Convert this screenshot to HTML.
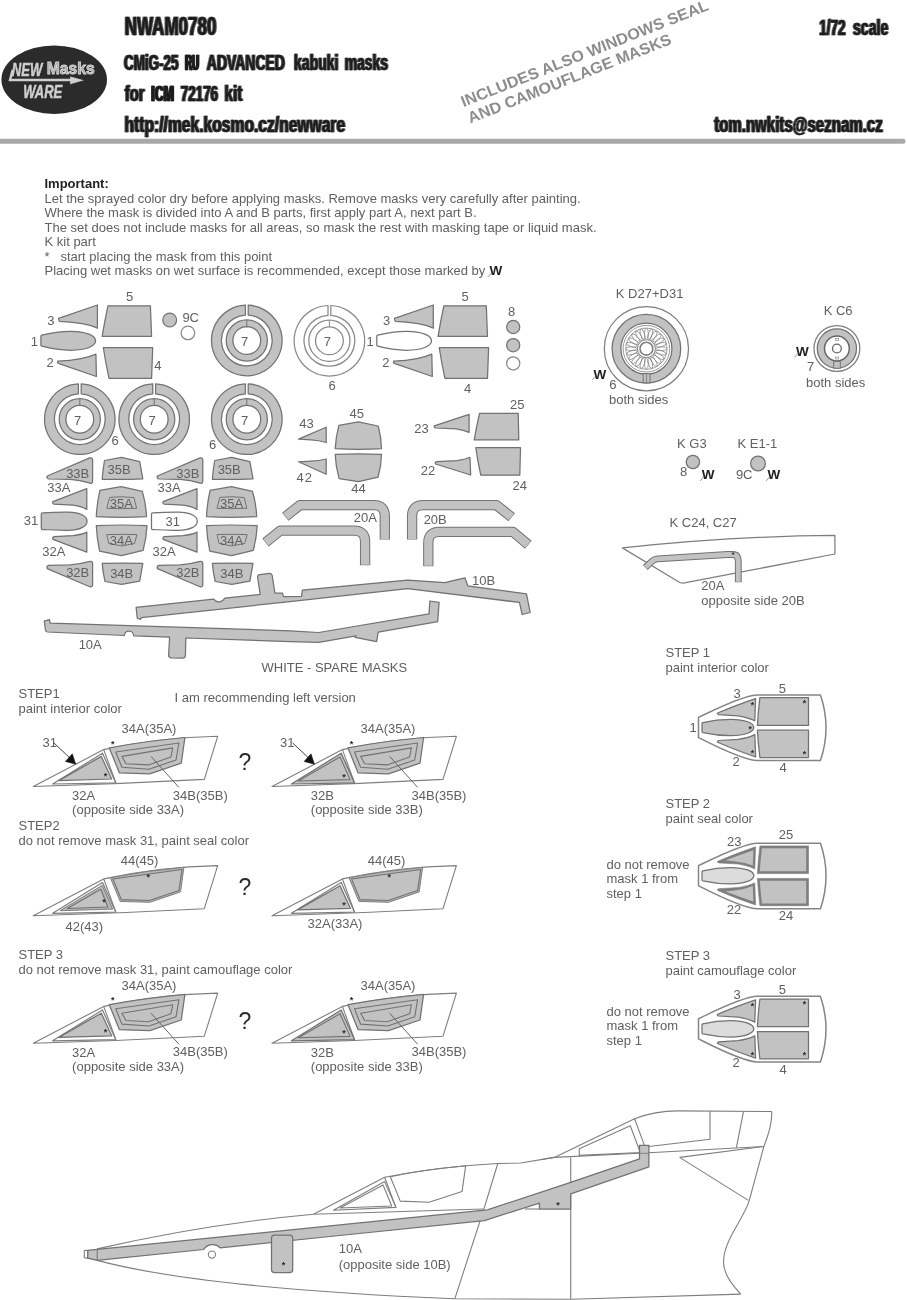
<!DOCTYPE html>
<html lang="en">
<head>
<meta charset="utf-8">
<title>NWAM0780 CMiG-25 RU ADVANCED kabuki masks</title>
<style>
html,body{margin:0;padding:0;background:#fff}
body{width:907px;height:1300px;overflow:hidden;position:relative}
svg{will-change:transform;display:block;position:absolute;left:0;top:0;font-family:"Liberation Sans",sans-serif;font-size:13px;fill:#606060}
</style>
</head>
<body>
<svg width="907" height="1300" viewBox="0 0 907 1300">
<g id="header">
<rect x="-5" y="138.7" width="910.5" height="5.1" rx="2.5" fill="#a9a9a9"/>
<ellipse cx="54.2" cy="79.7" rx="52.8" ry="34.2" fill="#2b2b2b"/>
<g fill="#cfcfcf" stroke="#cfcfcf" stroke-width="0.5" font-weight="700" font-style="italic">
<text x="11.8" y="76.2" font-size="18" textLength="30.5" lengthAdjust="spacingAndGlyphs">NEW</text>
<text x="23.2" y="97.7" font-size="17.7" textLength="39" lengthAdjust="spacingAndGlyphs">WARE</text>
</g>
<text x="46.8" y="73.7" font-size="16.7" font-weight="700" fill="#a9a9a9" stroke="#d6d6d6" stroke-width="0.9" textLength="48" lengthAdjust="spacingAndGlyphs">Masks</text>
<path d="M12.6,70 L10,80 L71,80" fill="none" stroke="#cfcfcf" stroke-width="2.4" stroke-linejoin="miter"/>
<path d="M70.2,76.4 L84,80.2 L70.2,84.2 Z" fill="#cfcfcf"/>
<filter id="fat" filterUnits="userSpaceOnUse" x="100" y="0" width="807" height="140"><feMorphology operator="dilate" radius="1 0" result="d"/><feComponentTransfer in="d" result="h"><feFuncA type="linear" slope="0.75"/></feComponentTransfer><feMerge><feMergeNode in="h"/><feMergeNode in="SourceGraphic"/></feMerge></filter>
<filter id="fat2" filterUnits="userSpaceOnUse" x="100" y="0" width="807" height="140"><feMorphology operator="dilate" radius="1 0" result="d"/><feComponentTransfer in="d" result="h"><feFuncA type="linear" slope="1"/></feComponentTransfer><feMerge><feMergeNode in="h"/><feMergeNode in="SourceGraphic"/></feMerge></filter>
<g font-weight="700" fill="#1e1e1e" stroke="#1e1e1e" stroke-width="0.3" filter="url(#fat)">
<text x="124.75" y="34.6" font-size="25.73" textLength="91.61" lengthAdjust="spacingAndGlyphs">NWAM0780</text>
<text x="124.05" y="70" font-size="22.82" textLength="54.32" lengthAdjust="spacingAndGlyphs">CMiG-25</text>
<text x="206.85" y="70" font-size="22.82" textLength="77.97" lengthAdjust="spacingAndGlyphs">ADVANCED</text>
<text x="294.05" y="70" font-size="22.82" textLength="44.47" lengthAdjust="spacingAndGlyphs">kabuki</text>
<text x="344.65" y="70" font-size="22.82" textLength="43.48" lengthAdjust="spacingAndGlyphs">masks</text>
<text x="124.85" y="101.2" font-size="22.82" textLength="19.67" lengthAdjust="spacingAndGlyphs">for</text>
<text x="180.75" y="101.2" font-size="22.82" textLength="37.31" lengthAdjust="spacingAndGlyphs">72176</text>
<text x="224.55" y="101.2" font-size="22.82" textLength="17.73" lengthAdjust="spacingAndGlyphs">kit</text>
<text x="124.55" y="132.2" font-size="22.82" textLength="220.60" lengthAdjust="spacingAndGlyphs">http://mek.kosmo.cz/newware</text>
<text x="819.15" y="34.8" font-size="22.82" textLength="26.42" lengthAdjust="spacingAndGlyphs">1/72</text>
<text x="852.95" y="34.8" font-size="22.82" textLength="35.36" lengthAdjust="spacingAndGlyphs">scale</text>
<text x="714.15" y="132.4" font-size="22.82" textLength="168.60" lengthAdjust="spacingAndGlyphs">tom.nwkits@seznam.cz</text>
</g>
<g font-weight="700" fill="#1e1e1e" stroke="#1e1e1e" stroke-width="0.3" filter="url(#fat2)">
<text x="185.20" y="70" font-size="22.82" textLength="13.79" lengthAdjust="spacingAndGlyphs">RU</text>
<text x="151.20" y="101.2" font-size="22.82" textLength="22.78" lengthAdjust="spacingAndGlyphs">ICM</text>
</g>
<g transform="translate(463.4,107.2) rotate(-21.6)" font-weight="700" font-size="15.8" fill="#8d8d8d">
<text x="0" y="0" textLength="265" lengthAdjust="spacingAndGlyphs">INCLUDES ALSO WINDOWS SEAL</text>
<text x="0.4" y="17.7" textLength="217.5" lengthAdjust="spacingAndGlyphs">AND CAMOUFLAGE MASKS</text>
</g>
</g>
<g id="intro">
<text x="44.5" y="188.1" font-weight="700" fill="#222" >Important:</text>
<text x="44.5" y="202.6" >Let the sprayed color dry before applying masks. Remove masks very carefully after painting.</text>
<text x="44.5" y="217.2" >Where the mask is divided into A and B parts, first apply part A, next part B.</text>
<text x="44.5" y="231.7" >The set does not include masks for all areas, so mask the rest with masking tape or liquid mask.</text>
<text x="44.5" y="246.2" >K kit part</text>
<text x="44.5" y="260.8" >*   start placing the mask from this point</text>
<text x="44.5" y="275.4" >Placing wet masks on wet surface is recommended, except those marked by</text>
<text x="489.5" y="275.4" font-weight="700" font-size="13.5" fill="#222">W</text>
<path d="M488,276.9 L492,272.4" stroke="#666" stroke-width="0.7" fill="none"/>
</g>
<g id="sheet">
<path d="M58.6,318.4 L97.4,305 L97.4,328.2 Q92,325.2 82,323.6 Q70,321.8 59.6,321.4 Q58.3,320.6 58.6,318.4 Z" fill="#c2c2c2" stroke="#727272" stroke-width="1.25" stroke-linejoin="round" />
<path d="M107.9,305.8 L150.4,305.8 L151.6,336.4 L102.2,336.4 Q104.5,322 107.9,305.8 Z" fill="#c2c2c2" stroke="#727272" stroke-width="1.25" stroke-linejoin="round" />
<path d="M40.9,336.2 Q41,335.4 41.8,335.2 C52,332.5 62,331.2 71,331.3 C86,331.4 95.6,335.5 95.6,340.8 C95.6,346.2 86,350.2 71,350.3 C62,350.3 52,349 41.8,346.2 Q41,346 40.9,345.2 Z" fill="#c2c2c2" stroke="#727272" stroke-width="1.25" stroke-linejoin="round" />
<path d="M57.6,361.2 Q70,360.6 81,358.6 Q90,356.8 95.9,354.1 L96.4,376.5 L58.4,363.4 Q57.2,362.6 57.6,361.2 Z" fill="#c2c2c2" stroke="#727272" stroke-width="1.25" stroke-linejoin="round" />
<path d="M103.3,347.5 L152.7,347.5 L151.6,378.3 L109,378.3 Q105.5,362 103.3,347.5 Z" fill="#c2c2c2" stroke="#727272" stroke-width="1.25" stroke-linejoin="round" />
<text x="129.7" y="300.5" text-anchor="middle" >5</text>
<text x="50.8" y="325" text-anchor="middle" >3</text>
<text x="34.4" y="345.7" text-anchor="middle" >1</text>
<text x="50.1" y="367.4" text-anchor="middle" >2</text>
<text x="157.8" y="370" text-anchor="middle" >4</text>
<circle cx="169.7" cy="320" r="6.9" fill="#c2c2c2" stroke="#727272" stroke-width="1.25"/>
<circle cx="187.9" cy="332.9" r="6.8" fill="#fff" stroke="#8a8a8a" stroke-width="1.25"/>
<text x="182.4" y="322.2" >9C</text>
<path d="M248.2,305.2 A35.3,35.3 0 1 1 245.4,305.2 L245.4,315.1 A25.4,25.4 0 1 0 248.2,315.1 Z" fill="#c2c2c2" stroke="#727272" stroke-width="1.25" stroke-linejoin="round" />
<path d="M246.8,319.9 A20.6,20.6 0 0 1 246.8,361.1 A20.6,20.6 0 0 1 246.8,319.9 Z M246.8,326.6 A13.9,13.9 0 0 0 246.8,354.4 A13.9,13.9 0 0 0 246.8,326.6 Z" fill="#c2c2c2" fill-rule="evenodd" stroke="#727272" stroke-width="1.25"/>
<line x1="246.8" y1="319.9" x2="246.8" y2="326.6" stroke="#727272" stroke-width="1"/>
<text x="244.7" y="346.1" text-anchor="middle" >7</text>
<path d="M330.8,305.5 A35.3,35.3 0 1 1 328,305.5 L328,315.4 A25.4,25.4 0 1 0 330.8,315.4 Z" fill="#fff" stroke="#8a8a8a" stroke-width="1.25" stroke-linejoin="round" />
<path d="M329.4,320.2 A20.6,20.6 0 0 1 329.4,361.4 A20.6,20.6 0 0 1 329.4,320.2 Z M329.4,326.9 A13.9,13.9 0 0 0 329.4,354.7 A13.9,13.9 0 0 0 329.4,326.9 Z" fill="#fff" fill-rule="evenodd" stroke="#8a8a8a" stroke-width="1.25"/>
<line x1="329.4" y1="320.2" x2="329.4" y2="326.9" stroke="#8a8a8a" stroke-width="1"/>
<text x="327.3" y="346.4" text-anchor="middle" >7</text>
<text x="332" y="389.6" text-anchor="middle" >6</text>
<path d="M58.6,318.4 L97.4,305 L97.4,328.2 Q92,325.2 82,323.6 Q70,321.8 59.6,321.4 Q58.3,320.6 58.6,318.4 Z" fill="#c2c2c2" stroke="#727272" stroke-width="1.25" stroke-linejoin="round" transform="translate(335.9,0)"/>
<path d="M107.9,305.8 L150.4,305.8 L151.6,336.4 L102.2,336.4 Q104.5,322 107.9,305.8 Z" fill="#c2c2c2" stroke="#727272" stroke-width="1.25" stroke-linejoin="round" transform="translate(335.9,0)"/>
<path d="M40.9,336.2 Q41,335.4 41.8,335.2 C52,332.5 62,331.2 71,331.3 C86,331.4 95.6,335.5 95.6,340.8 C95.6,346.2 86,350.2 71,350.3 C62,350.3 52,349 41.8,346.2 Q41,346 40.9,345.2 Z" fill="#fff" stroke="#727272" stroke-width="1.25" stroke-linejoin="round" transform="translate(335.9,0)"/>
<path d="M57.6,361.2 Q70,360.6 81,358.6 Q90,356.8 95.9,354.1 L96.4,376.5 L58.4,363.4 Q57.2,362.6 57.6,361.2 Z" fill="#c2c2c2" stroke="#727272" stroke-width="1.25" stroke-linejoin="round" transform="translate(335.9,0)"/>
<path d="M103.3,347.5 L152.7,347.5 L151.6,378.3 L109,378.3 Q105.5,362 103.3,347.5 Z" fill="#c2c2c2" stroke="#727272" stroke-width="1.25" stroke-linejoin="round" transform="translate(335.9,0)"/>
<text x="465.2" y="300.5" text-anchor="middle" >5</text>
<text x="386.5" y="325.4" text-anchor="middle" >3</text>
<text x="370" y="345.9" text-anchor="middle" >1</text>
<text x="385.8" y="367.4" text-anchor="middle" >2</text>
<text x="467.5" y="393.2" text-anchor="middle" >4</text>
<text x="511.5" y="315.8" text-anchor="middle" >8</text>
<circle cx="513.2" cy="327" r="6.6" fill="#c2c2c2" stroke="#727272" stroke-width="1.25"/>
<circle cx="513.2" cy="345.2" r="6.6" fill="#c2c2c2" stroke="#727272" stroke-width="1.25"/>
<circle cx="513.2" cy="363.4" r="6.6" fill="#fff" stroke="#8a8a8a" stroke-width="1.25"/>
<path d="M81.2,383.9 A35.3,35.3 0 1 1 78.4,383.9 L78.4,393.8 A25.4,25.4 0 1 0 81.2,393.8 Z" fill="#c2c2c2" stroke="#727272" stroke-width="1.25" stroke-linejoin="round" />
<path d="M79.8,398.6 A20.6,20.6 0 0 1 79.8,439.8 A20.6,20.6 0 0 1 79.8,398.6 Z M79.8,405.3 A13.9,13.9 0 0 0 79.8,433.1 A13.9,13.9 0 0 0 79.8,405.3 Z" fill="#c2c2c2" fill-rule="evenodd" stroke="#727272" stroke-width="1.25"/>
<line x1="79.8" y1="398.6" x2="79.8" y2="405.3" stroke="#727272" stroke-width="1"/>
<text x="77.7" y="424.8" text-anchor="middle" >7</text>
<path d="M155.6,383.9 A35.3,35.3 0 1 1 152.8,383.9 L152.8,393.8 A25.4,25.4 0 1 0 155.6,393.8 Z" fill="#c2c2c2" stroke="#727272" stroke-width="1.25" stroke-linejoin="round" />
<path d="M154.2,398.6 A20.6,20.6 0 0 1 154.2,439.8 A20.6,20.6 0 0 1 154.2,398.6 Z M154.2,405.3 A13.9,13.9 0 0 0 154.2,433.1 A13.9,13.9 0 0 0 154.2,405.3 Z" fill="#c2c2c2" fill-rule="evenodd" stroke="#727272" stroke-width="1.25"/>
<line x1="154.2" y1="398.6" x2="154.2" y2="405.3" stroke="#727272" stroke-width="1"/>
<text x="152.1" y="424.8" text-anchor="middle" >7</text>
<path d="M248.2,383.9 A35.3,35.3 0 1 1 245.4,383.9 L245.4,393.8 A25.4,25.4 0 1 0 248.2,393.8 Z" fill="#c2c2c2" stroke="#727272" stroke-width="1.25" stroke-linejoin="round" />
<path d="M246.8,398.6 A20.6,20.6 0 0 1 246.8,439.8 A20.6,20.6 0 0 1 246.8,398.6 Z M246.8,405.3 A13.9,13.9 0 0 0 246.8,433.1 A13.9,13.9 0 0 0 246.8,405.3 Z" fill="#c2c2c2" fill-rule="evenodd" stroke="#727272" stroke-width="1.25"/>
<line x1="246.8" y1="398.6" x2="246.8" y2="405.3" stroke="#727272" stroke-width="1"/>
<text x="244.7" y="424.8" text-anchor="middle" >7</text>
<text x="115" y="445.1" text-anchor="middle" >6</text>
<text x="212.7" y="449.1" text-anchor="middle" >6</text>
<path d="M298.5,439.1 L326.2,427.2 L326.2,442.5 Q319,440.2 311,439.8 Z" fill="#c2c2c2" stroke="#727272" stroke-width="1.25" stroke-linejoin="round" />
<path d="M298.5,461.8 L311,461.2 Q319,460.8 326.2,459 L326.2,474.2 Z" fill="#c2c2c2" stroke="#727272" stroke-width="1.25" stroke-linejoin="round" />
<path d="M338.9,425.3 L358.4,421.9 L378.2,426 Q381.3,437 381.5,448.7 Q358,449.8 335.2,448.7 Q335.8,437 338.9,425.3 Z" fill="#c2c2c2" stroke="#727272" stroke-width="1.25" stroke-linejoin="round" />
<path d="M335.2,454.4 Q358,453.2 381.5,454.4 Q381.3,466 378,477.2 L358.4,481.6 L339.1,478.6 Q335.6,466 335.2,454.4 Z" fill="#c2c2c2" stroke="#727272" stroke-width="1.25" stroke-linejoin="round" />
<text x="306.5" y="427.6" text-anchor="middle" >43</text>
<text x="356.7" y="418" text-anchor="middle" >45</text>
<text x="304.8" y="482.4" text-anchor="middle" letter-spacing="1">42</text>
<text x="358.4" y="492.6" text-anchor="middle" >44</text>
<path d="M434.4,425.8 L469.1,414.4 L469.1,432.4 Q464,430 456,428.8 L435.4,428 Q433.6,427.2 434.4,425.8 Z" fill="#c2c2c2" stroke="#727272" stroke-width="1.25" stroke-linejoin="round" />
<path d="M479.5,413.3 L518.2,413.3 L518.8,439.8 L474.2,439.8 Q476.4,427 479.5,413.3 Z" fill="#c2c2c2" stroke="#727272" stroke-width="1.25" stroke-linejoin="round" />
<path d="M436.4,461.6 L457,460.6 Q465,459.6 469.9,457.3 L470.7,475 L435.6,464 Q434.6,462.6 436.4,461.6 Z" fill="#c2c2c2" stroke="#727272" stroke-width="1.25" stroke-linejoin="round" />
<path d="M475.8,447.7 L520.5,447.7 L519.8,475.2 L480.8,475.2 Q477.6,461 475.8,447.7 Z" fill="#c2c2c2" stroke="#727272" stroke-width="1.25" stroke-linejoin="round" />
<text x="421.6" y="432.9" text-anchor="middle" >23</text>
<text x="517.2" y="408.7" text-anchor="middle" >25</text>
<text x="427.9" y="474.8" text-anchor="middle" >22</text>
<text x="519.8" y="490" text-anchor="middle" >24</text>
<path d="M47.2,476 L89.8,457.9 Q92.6,457.3 92.6,460 L92.6,481 Q92.5,483.8 90,483.2 Q80,480.2 70,479.4 L48.4,479 Q46.4,478 47.2,476 Z" fill="#c2c2c2" stroke="#727272" stroke-width="1.25" stroke-linejoin="round" />
<path d="M104.5,460.5 L121.5,457.4 L139.7,461.6 L142.8,478.9 Q122,479.8 102.2,479.3 Q102.8,470 104.5,460.5 Z" fill="#c2c2c2" stroke="#727272" stroke-width="1.25" stroke-linejoin="round" />
<path d="M53,501.6 L86.8,488.6 L86.8,509.4 Q82,506.6 73,505.2 L54,504.2 Q52,503.4 53,501.6 Z" fill="#c2c2c2" stroke="#727272" stroke-width="1.25" stroke-linejoin="round" />
<path d="M99.9,490.4 L121.2,486.7 L142.3,491.4 Q146,504 146.5,516.7 Q121,518 96.3,516.7 Q96.8,504 99.9,490.4 Z" fill="#c2c2c2" stroke="#727272" stroke-width="1.25" stroke-linejoin="round" />
<path d="M109.6,497.4 Q121.5,496 134,497.6 L136.6,508.3 Q121.5,509 106.8,508.3 Z" fill="none" stroke="#727272" stroke-width="1" stroke-linejoin="round" />
<path d="M41.3,514 Q41.3,512.9 42.5,512.9 C50,512.4 60,512 68,512.1 C80,512.3 87.1,516 87.1,521.2 C87.1,526.4 80,530.1 68,530.3 C60,530.4 50,530 42.5,529.5 Q41.3,529.5 41.3,528.4 Z" fill="#c2c2c2" stroke="#727272" stroke-width="1.25" stroke-linejoin="round" />
<path d="M54,536.6 L73,535.6 Q82,534.6 86.8,532.1 L86.8,552.2 L53,539.4 Q52,537.6 54,536.6 Z" fill="#c2c2c2" stroke="#727272" stroke-width="1.25" stroke-linejoin="round" />
<path d="M96.3,525.6 Q121,524.4 147,525.6 Q146.4,538 143.1,550.3 L121.5,555.7 L99.6,551.1 Q96.8,538 96.3,525.6 Z" fill="#c2c2c2" stroke="#727272" stroke-width="1.25" stroke-linejoin="round" />
<path d="M106.8,534.6 Q121.5,534 136.9,534.6 L134.6,543.4 L121.5,546 L108.8,543.4 Z" fill="none" stroke="#727272" stroke-width="1" stroke-linejoin="round" />
<path d="M48.4,565.4 L70,564.8 Q80,564.2 90,561.4 Q92.5,561 92.6,563.6 L92.6,584.6 Q92.6,587.4 89.8,586.8 L47.2,568.6 Q46.4,566.4 48.4,565.4 Z" fill="#c2c2c2" stroke="#727272" stroke-width="1.25" stroke-linejoin="round" />
<path d="M102.2,563.4 Q122,562.8 142.8,563.4 L139.7,581.2 L121.5,584.3 L105,581.5 Q102.8,572 102.2,563.4 Z" fill="#c2c2c2" stroke="#727272" stroke-width="1.25" stroke-linejoin="round" />
<text x="77.7" y="478.4" text-anchor="middle" >33B</text>
<text x="119" y="473.8" text-anchor="middle" >35B</text>
<text x="47.3" y="492.1" >33A</text>
<text x="121.4" y="507.8" text-anchor="middle" >35A</text>
<text x="121.4" y="544.5" text-anchor="middle" >34A</text>
<text x="42.3" y="556.4" >32A</text>
<text x="77.7" y="577.3" text-anchor="middle" >32B</text>
<text x="121.7" y="578.3" text-anchor="middle" >34B</text>
<path d="M47.2,476 L89.8,457.9 Q92.6,457.3 92.6,460 L92.6,481 Q92.5,483.8 90,483.2 Q80,480.2 70,479.4 L48.4,479 Q46.4,478 47.2,476 Z" fill="#c2c2c2" stroke="#727272" stroke-width="1.25" stroke-linejoin="round" transform="translate(110.2,0)"/>
<path d="M104.5,460.5 L121.5,457.4 L139.7,461.6 L142.8,478.9 Q122,479.8 102.2,479.3 Q102.8,470 104.5,460.5 Z" fill="#c2c2c2" stroke="#727272" stroke-width="1.25" stroke-linejoin="round" transform="translate(110.2,0)"/>
<path d="M53,501.6 L86.8,488.6 L86.8,509.4 Q82,506.6 73,505.2 L54,504.2 Q52,503.4 53,501.6 Z" fill="#c2c2c2" stroke="#727272" stroke-width="1.25" stroke-linejoin="round" transform="translate(110.2,0)"/>
<path d="M99.9,490.4 L121.2,486.7 L142.3,491.4 Q146,504 146.5,516.7 Q121,518 96.3,516.7 Q96.8,504 99.9,490.4 Z" fill="#c2c2c2" stroke="#727272" stroke-width="1.25" stroke-linejoin="round" transform="translate(110.2,0)"/>
<path d="M109.6,497.4 Q121.5,496 134,497.6 L136.6,508.3 Q121.5,509 106.8,508.3 Z" fill="none" stroke="#727272" stroke-width="1" stroke-linejoin="round" transform="translate(110.2,0)"/>
<path d="M41.3,514 Q41.3,512.9 42.5,512.9 C50,512.4 60,512 68,512.1 C80,512.3 87.1,516 87.1,521.2 C87.1,526.4 80,530.1 68,530.3 C60,530.4 50,530 42.5,529.5 Q41.3,529.5 41.3,528.4 Z" fill="#fff" stroke="#727272" stroke-width="1.25" stroke-linejoin="round" transform="translate(110.2,0)"/>
<path d="M54,536.6 L73,535.6 Q82,534.6 86.8,532.1 L86.8,552.2 L53,539.4 Q52,537.6 54,536.6 Z" fill="#c2c2c2" stroke="#727272" stroke-width="1.25" stroke-linejoin="round" transform="translate(110.2,0)"/>
<path d="M96.3,525.6 Q121,524.4 147,525.6 Q146.4,538 143.1,550.3 L121.5,555.7 L99.6,551.1 Q96.8,538 96.3,525.6 Z" fill="#c2c2c2" stroke="#727272" stroke-width="1.25" stroke-linejoin="round" transform="translate(110.2,0)"/>
<path d="M106.8,534.6 Q121.5,534 136.9,534.6 L134.6,543.4 L121.5,546 L108.8,543.4 Z" fill="none" stroke="#727272" stroke-width="1" stroke-linejoin="round" transform="translate(110.2,0)"/>
<path d="M48.4,565.4 L70,564.8 Q80,564.2 90,561.4 Q92.5,561 92.6,563.6 L92.6,584.6 Q92.6,587.4 89.8,586.8 L47.2,568.6 Q46.4,566.4 48.4,565.4 Z" fill="#c2c2c2" stroke="#727272" stroke-width="1.25" stroke-linejoin="round" transform="translate(110.2,0)"/>
<path d="M102.2,563.4 Q122,562.8 142.8,563.4 L139.7,581.2 L121.5,584.3 L105,581.5 Q102.8,572 102.2,563.4 Z" fill="#c2c2c2" stroke="#727272" stroke-width="1.25" stroke-linejoin="round" transform="translate(110.2,0)"/>
<text x="187.9" y="478.4" text-anchor="middle" >33B</text>
<text x="229.2" y="473.8" text-anchor="middle" >35B</text>
<text x="157.5" y="492.1" >33A</text>
<text x="231.6" y="507.8" text-anchor="middle" >35A</text>
<text x="231.6" y="544.5" text-anchor="middle" >34A</text>
<text x="152.5" y="556.4" >32A</text>
<text x="187.9" y="577.3" text-anchor="middle" >32B</text>
<text x="231.9" y="578.3" text-anchor="middle" >34B</text>
<text x="23.8" y="525.3" >31</text>
<text x="172.7" y="525.7" text-anchor="middle" >31</text>
<path d="M285.3,516.7 L300,505.1 L373.8,505.1 Q384.8,505.1 384.8,516.1 L384.8,539.4" fill="none" stroke="#727272" stroke-width="10.3" stroke-linejoin="round"/>
<path d="M285.7,516.4 L300,505.1 L373.8,505.1 Q384.8,505.1 384.8,516.1 L384.8,538.9" fill="none" stroke="#c2c2c2" stroke-width="8.3" stroke-linejoin="round"/>
<path d="M265.5,542.5 L280.4,530.6 L354.1,530.6 Q365.1,530.6 365.1,541.6 L365.1,565.2" fill="none" stroke="#727272" stroke-width="10.3" stroke-linejoin="round"/>
<path d="M265.9,542.2 L280.4,530.6 L354.1,530.6 Q365.1,530.6 365.1,541.6 L365.1,564.7" fill="none" stroke="#c2c2c2" stroke-width="8.3" stroke-linejoin="round"/>
<path d="M412.1,539.4 L412.1,516.1 Q412.1,505.1 423.1,505.1 L496.4,505.1 L511.7,517.3" fill="none" stroke="#727272" stroke-width="10.3" stroke-linejoin="round"/>
<path d="M412.1,538.9 L412.1,516.1 Q412.1,505.1 423.1,505.1 L496.4,505.1 L511.3,517" fill="none" stroke="#c2c2c2" stroke-width="8.3" stroke-linejoin="round"/>
<path d="M428.3,566.2 L428.3,542.9 Q428.3,531.9 439.3,531.9 L513,531.9 L528.3,544.8" fill="none" stroke="#727272" stroke-width="10.3" stroke-linejoin="round"/>
<path d="M428.3,565.7 L428.3,542.9 Q428.3,531.9 439.3,531.9 L513,531.9 L527.9,544.5" fill="none" stroke="#c2c2c2" stroke-width="8.3" stroke-linejoin="round"/>
<text x="365.3" y="521.8" text-anchor="middle" >20A</text>
<text x="435.2" y="523.7" text-anchor="middle" >20B</text>
<path d="M136.1,607.3 L213.6,599.2 A6.6,6.6 0 0 0 224.8,598.1 L260.2,594.4 L257.6,577.3 Q257.4,575 259.8,574.7 L269.5,573.4 Q271.8,573.2 272.2,575.5 L274.9,593.2 L282.3,593 L283.6,596.6 L301.5,596.4 L302.4,590.1 L407.6,580.1 L444.8,582.6 L464.9,577.8 L467.8,585.8 L526.5,593.8 L530.2,612.5 L522.2,614.5 L519.4,602.4 L407.6,588.7 L290,601.6 L141.3,617.6 L140.6,619.3 L137.3,618.5 Z" fill="#c2c2c2" stroke="#727272" stroke-width="1.25" stroke-linejoin="round" />
<path d="M44.3,621.1 L49.5,619.6 L50.1,623.1 L290,630.8 L318.7,632.5 L429,613.9 L429.9,601 L439.1,602.4 L437.7,621.6 L378.2,632.2 L376.6,641.7 L355.1,637.4 L356,635.8 L318.7,642.3 L290,641.7 L185.8,638 L185.4,655.8 Q185.2,658.2 182.7,658.2 L171.2,657.8 Q168.6,657.6 168.6,655 L169.6,637.2 L133.6,635.8 A4.6,4.6 0 0 0 124.4,635.5 L47.5,632 Q45.6,631.8 45.5,630 Z" fill="#c2c2c2" stroke="#727272" stroke-width="1.25" stroke-linejoin="round" />
<text x="483.5" y="584.8" text-anchor="middle" >10B</text>
<text x="90.2" y="649.3" text-anchor="middle" >10A</text>
<text x="261.5" y="672" >WHITE - SPARE MASKS</text>
</g>
<g id="steps">
<text x="18.5" y="698.3" >STEP1</text>
<text x="18.5" y="712.6" >paint interior color</text>
<text x="174.5" y="702" >I am recommending left version</text>
<text x="18.5" y="830.2" >STEP2</text>
<text x="18.5" y="844.8" >do not remove mask 31, paint seal color</text>
<text x="18.5" y="959.3" >STEP 3</text>
<text x="18.5" y="974" >do not remove mask 31, paint camouflage color</text>
<g transform="translate(0,0)">
<path d="M33.3,786.5 L103.7,749.6 Q160,737.5 217.7,736.3 L204.3,779.4 Q120,784 33.3,786.5 Z" fill="#fff" stroke="#7e7e7e" stroke-width="1.1" stroke-linejoin="round" />
<path d="M103.7,749.6 L115.8,782.7" fill="none" stroke="#7e7e7e" stroke-width="1.1" stroke-linejoin="round" />
<path d="M109.3,747.9 Q147,740.8 184.9,737.5 L181.3,763.2 L149.8,773.8 L119.4,772.9 Z" fill="#c2c2c2" stroke="#727272" stroke-width="1.25" stroke-linejoin="round" />
<polygon points="115.8,752 178.9,743 176,760 149,769.2 121.9,767.3" fill="none" stroke="#727272" stroke-width="1.1" stroke-linejoin="round" />
<polygon points="121.9,756.4 172.8,747.9 170.9,756.9 148.6,764.9 126,763.7" fill="none" stroke="#727272" stroke-width="1.1" stroke-linejoin="round" />
<line x1="151" y1="756.4" x2="178.9" y2="787.4" stroke="#666" stroke-width="1"/>
<polygon points="52.7,784 102.5,753.2 115.8,782.9" fill="#fff" stroke="#7e7e7e" stroke-width="1.25" stroke-linejoin="round" />
<polygon points="58.8,780.6 101.3,756.4 111.7,779" fill="#c2c2c2" stroke="#727272" stroke-width="1.25" stroke-linejoin="round" />
<text x="105.4" y="778.7" text-anchor="middle" font-size="9" font-weight="700" fill="#2a2a2a">*</text>
<text x="112.7" y="746.6" text-anchor="middle" font-size="9" font-weight="700" fill="#2a2a2a">*</text>
</g>
<g transform="translate(238.7,0)">
<path d="M33.3,786.5 L103.7,749.6 Q160,737.5 217.7,736.3 L204.3,779.4 Q120,784 33.3,786.5 Z" fill="#fff" stroke="#7e7e7e" stroke-width="1.1" stroke-linejoin="round" />
<path d="M103.7,749.6 L115.8,782.7" fill="none" stroke="#7e7e7e" stroke-width="1.1" stroke-linejoin="round" />
<path d="M109.3,747.9 Q147,740.8 184.9,737.5 L181.3,763.2 L149.8,773.8 L119.4,772.9 Z" fill="#c2c2c2" stroke="#727272" stroke-width="1.25" stroke-linejoin="round" />
<polygon points="115.8,752 178.9,743 176,760 149,769.2 121.9,767.3" fill="none" stroke="#727272" stroke-width="1.1" stroke-linejoin="round" />
<polygon points="121.9,756.4 172.8,747.9 170.9,756.9 148.6,764.9 126,763.7" fill="none" stroke="#727272" stroke-width="1.1" stroke-linejoin="round" />
<line x1="151" y1="756.4" x2="178.9" y2="787.4" stroke="#666" stroke-width="1"/>
<polygon points="52.7,784 102.5,753.2 115.8,782.9" fill="#c2c2c2" stroke="#727272" stroke-width="1.25" stroke-linejoin="round" />
<polygon points="59.6,781 101.3,757 111.4,779.6" fill="none" stroke="#727272" stroke-width="1.1" stroke-linejoin="round" />
<text x="105.4" y="779.7" text-anchor="middle" font-size="9" font-weight="700" fill="#2a2a2a">*</text>
<text x="112.7" y="746.6" text-anchor="middle" font-size="9" font-weight="700" fill="#2a2a2a">*</text>
</g>
<text x="244.8" y="770" text-anchor="middle" font-size="23" fill="#2a2a2a" >?</text>
<g transform="translate(0,129.3)">
<path d="M33.3,786.5 L103.7,749.6 Q160,737.5 217.7,736.3 L204.3,779.4 Q120,784 33.3,786.5 Z" fill="#fff" stroke="#7e7e7e" stroke-width="1.1" stroke-linejoin="round" />
<path d="M103.7,749.6 L115.8,782.7" fill="none" stroke="#7e7e7e" stroke-width="1.1" stroke-linejoin="round" />
<path d="M110.3,748.4 Q147,741.3 183.9,738 L180.5,762.6 L149.8,773 L120.2,772.1 Z" fill="#b6b6b6" stroke="#7e7e7e" stroke-width="1" stroke-linejoin="round" />
<polygon points="112.9,749.7 182,740.2 178.9,761.3 149.4,771.2 121.4,770.3" fill="#c2c2c2" stroke="#727272" stroke-width="1.1" stroke-linejoin="round" />
<polygon points="52.7,784 102.5,753.2 115.8,782.9" fill="#fff" stroke="#7e7e7e" stroke-width="1.25" stroke-linejoin="round" />
<polygon points="60,781.4 102.3,756 112.7,779.8" fill="#b6b6b6" stroke="#7e7e7e" stroke-width="1" stroke-linejoin="round" />
<polygon points="67.3,779.2 100.8,760 107.8,777.7" fill="#c2c2c2" stroke="#727272" stroke-width="1.1" stroke-linejoin="round" />
<text x="104" y="775.6" text-anchor="middle" font-size="9" font-weight="700" fill="#2a2a2a">*</text>
<text x="148.2" y="751.2" text-anchor="middle" font-size="9" font-weight="700" fill="#2a2a2a">*</text>
</g>
<g transform="translate(238.7,129.3)">
<path d="M33.3,786.5 L103.7,749.6 Q160,737.5 217.7,736.3 L204.3,779.4 Q120,784 33.3,786.5 Z" fill="#fff" stroke="#7e7e7e" stroke-width="1.1" stroke-linejoin="round" />
<path d="M103.7,749.6 L115.8,782.7" fill="none" stroke="#7e7e7e" stroke-width="1.1" stroke-linejoin="round" />
<path d="M110.3,748.4 Q147,741.3 183.9,738 L180.5,762.6 L149.8,773 L120.2,772.1 Z" fill="#b6b6b6" stroke="#7e7e7e" stroke-width="1" stroke-linejoin="round" />
<polygon points="112.9,749.7 182,740.2 178.9,761.3 149.4,771.2 121.4,770.3" fill="#c2c2c2" stroke="#727272" stroke-width="1.1" stroke-linejoin="round" />
<polygon points="52.7,784 102.5,753.2 115.8,782.9" fill="#fff" stroke="#7e7e7e" stroke-width="1.25" stroke-linejoin="round" />
<polygon points="58.8,780.6 101.3,756.4 111.7,779" fill="#c2c2c2" stroke="#727272" stroke-width="1.25" stroke-linejoin="round" />
<text x="105.4" y="778.7" text-anchor="middle" font-size="9" font-weight="700" fill="#2a2a2a">*</text>
<text x="150.5" y="751.2" text-anchor="middle" font-size="9" font-weight="700" fill="#2a2a2a">*</text>
</g>
<text x="244.8" y="895.4" text-anchor="middle" font-size="23" fill="#2a2a2a" >?</text>
<g transform="translate(0,256.8)">
<path d="M33.3,786.5 L103.7,749.6 Q160,737.5 217.7,736.3 L204.3,779.4 Q120,784 33.3,786.5 Z" fill="#fff" stroke="#7e7e7e" stroke-width="1.1" stroke-linejoin="round" />
<path d="M103.7,749.6 L115.8,782.7" fill="none" stroke="#7e7e7e" stroke-width="1.1" stroke-linejoin="round" />
<path d="M109.3,747.9 Q147,740.8 184.9,737.5 L181.3,763.2 L149.8,773.8 L119.4,772.9 Z" fill="#c2c2c2" stroke="#727272" stroke-width="1.25" stroke-linejoin="round" />
<polygon points="115.8,752 178.9,743 176,760 149,769.2 121.9,767.3" fill="none" stroke="#727272" stroke-width="1.1" stroke-linejoin="round" />
<polygon points="121.9,756.4 172.8,747.9 170.9,756.9 148.6,764.9 126,763.7" fill="none" stroke="#727272" stroke-width="1.1" stroke-linejoin="round" />
<line x1="151" y1="756.4" x2="178.9" y2="787.4" stroke="#666" stroke-width="1"/>
<polygon points="52.7,784 102.5,753.2 115.8,782.9" fill="#fff" stroke="#7e7e7e" stroke-width="1.25" stroke-linejoin="round" />
<polygon points="58.8,780.6 101.3,756.4 111.7,779" fill="#c2c2c2" stroke="#727272" stroke-width="1.25" stroke-linejoin="round" />
<text x="105.4" y="778.7" text-anchor="middle" font-size="9" font-weight="700" fill="#2a2a2a">*</text>
<text x="112.7" y="746.6" text-anchor="middle" font-size="9" font-weight="700" fill="#2a2a2a">*</text>
</g>
<g transform="translate(238.7,256.8)">
<path d="M33.3,786.5 L103.7,749.6 Q160,737.5 217.7,736.3 L204.3,779.4 Q120,784 33.3,786.5 Z" fill="#fff" stroke="#7e7e7e" stroke-width="1.1" stroke-linejoin="round" />
<path d="M103.7,749.6 L115.8,782.7" fill="none" stroke="#7e7e7e" stroke-width="1.1" stroke-linejoin="round" />
<path d="M109.3,747.9 Q147,740.8 184.9,737.5 L181.3,763.2 L149.8,773.8 L119.4,772.9 Z" fill="#c2c2c2" stroke="#727272" stroke-width="1.25" stroke-linejoin="round" />
<polygon points="115.8,752 178.9,743 176,760 149,769.2 121.9,767.3" fill="none" stroke="#727272" stroke-width="1.1" stroke-linejoin="round" />
<polygon points="121.9,756.4 172.8,747.9 170.9,756.9 148.6,764.9 126,763.7" fill="none" stroke="#727272" stroke-width="1.1" stroke-linejoin="round" />
<line x1="151" y1="756.4" x2="178.9" y2="787.4" stroke="#666" stroke-width="1"/>
<polygon points="52.7,784 102.5,753.2 115.8,782.9" fill="#c2c2c2" stroke="#727272" stroke-width="1.25" stroke-linejoin="round" />
<polygon points="59.6,781 101.3,757 111.4,779.6" fill="none" stroke="#727272" stroke-width="1.1" stroke-linejoin="round" />
<text x="105.4" y="779.7" text-anchor="middle" font-size="9" font-weight="700" fill="#2a2a2a">*</text>
<text x="112.7" y="746.6" text-anchor="middle" font-size="9" font-weight="700" fill="#2a2a2a">*</text>
</g>
<text x="244.8" y="1028.8" text-anchor="middle" font-size="23" fill="#2a2a2a" >?</text>
<text x="149" y="733.3" text-anchor="middle" >34A(35A)</text>
<text x="42.6" y="747.2" >31</text>
<text x="72.1" y="800" >32A</text>
<text x="72.1" y="814.1" >(opposite side 33A)</text>
<text x="172.8" y="799.6" >34B(35B)</text>
<text x="388" y="733.3" text-anchor="middle" >34A(35A)</text>
<text x="280.1" y="747.2" >31</text>
<text x="310.8" y="800" >32B</text>
<text x="310.8" y="814.1" >(opposite side 33B)</text>
<text x="411.5" y="799.6" >34B(35B)</text>
<line x1="54" y1="743" x2="72" y2="760" stroke="#444" stroke-width="1"/>
<polygon points="75.8,764.3 65.4,761.4 72.3,753.8" fill="#111" stroke="#111" stroke-width="0.5" stroke-linejoin="round" />
<line x1="292.7" y1="743" x2="310.7" y2="760" stroke="#444" stroke-width="1"/>
<polygon points="314.5,764.3 304.1,761.4 311,753.8" fill="#111" stroke="#111" stroke-width="0.5" stroke-linejoin="round" />
<text x="149" y="990.1" text-anchor="middle" >34A(35A)</text>
<text x="72.1" y="1056.8" >32A</text>
<text x="72.1" y="1070.9" >(opposite side 33A)</text>
<text x="172.8" y="1056.4" >34B(35B)</text>
<text x="388" y="990.1" text-anchor="middle" >34A(35A)</text>
<text x="310.8" y="1056.8" >32B</text>
<text x="310.8" y="1070.9" >(opposite side 33B)</text>
<text x="411.5" y="1056.4" >34B(35B)</text>
<text x="139.5" y="865" text-anchor="middle" >44(45)</text>
<text x="386.5" y="865" text-anchor="middle" >44(45)</text>
<text x="65.5" y="930.5" >42(43)</text>
<text x="307.5" y="928" >32A(33A)</text>
</g>
<g id="right">
<circle cx="646.4" cy="348.7" r="42.1" fill="#fff" stroke="#7e7e7e" stroke-width="1.25"/>
<circle cx="646.4" cy="348.7" r="34.3" fill="#c2c2c2" stroke="#727272" stroke-width="1.25"/>
<circle cx="646.4" cy="348.7" r="25.5" fill="#fff" stroke="#727272" stroke-width="1.25"/>
<circle cx="646.4" cy="348.7" r="23.3" fill="#fff" stroke="#7e7e7e" stroke-width="0.8"/>
<circle cx="646.4" cy="348.7" r="20.6" fill="none" stroke="#7e7e7e" stroke-width="0.8"/>
<ellipse cx="646.4" cy="333.7" rx="1.9" ry="5.3" fill="none" stroke="#7e7e7e" stroke-width="0.7" transform="rotate(0 646.4 348.7)"/>
<ellipse cx="646.4" cy="333.7" rx="1.9" ry="5.3" fill="none" stroke="#7e7e7e" stroke-width="0.7" transform="rotate(15 646.4 348.7)"/>
<ellipse cx="646.4" cy="333.7" rx="1.9" ry="5.3" fill="none" stroke="#7e7e7e" stroke-width="0.7" transform="rotate(30 646.4 348.7)"/>
<ellipse cx="646.4" cy="333.7" rx="1.9" ry="5.3" fill="none" stroke="#7e7e7e" stroke-width="0.7" transform="rotate(45 646.4 348.7)"/>
<ellipse cx="646.4" cy="333.7" rx="1.9" ry="5.3" fill="none" stroke="#7e7e7e" stroke-width="0.7" transform="rotate(60 646.4 348.7)"/>
<ellipse cx="646.4" cy="333.7" rx="1.9" ry="5.3" fill="none" stroke="#7e7e7e" stroke-width="0.7" transform="rotate(75 646.4 348.7)"/>
<ellipse cx="646.4" cy="333.7" rx="1.9" ry="5.3" fill="none" stroke="#7e7e7e" stroke-width="0.7" transform="rotate(90 646.4 348.7)"/>
<ellipse cx="646.4" cy="333.7" rx="1.9" ry="5.3" fill="none" stroke="#7e7e7e" stroke-width="0.7" transform="rotate(105 646.4 348.7)"/>
<ellipse cx="646.4" cy="333.7" rx="1.9" ry="5.3" fill="none" stroke="#7e7e7e" stroke-width="0.7" transform="rotate(120 646.4 348.7)"/>
<ellipse cx="646.4" cy="333.7" rx="1.9" ry="5.3" fill="none" stroke="#7e7e7e" stroke-width="0.7" transform="rotate(135 646.4 348.7)"/>
<ellipse cx="646.4" cy="333.7" rx="1.9" ry="5.3" fill="none" stroke="#7e7e7e" stroke-width="0.7" transform="rotate(150 646.4 348.7)"/>
<ellipse cx="646.4" cy="333.7" rx="1.9" ry="5.3" fill="none" stroke="#7e7e7e" stroke-width="0.7" transform="rotate(165 646.4 348.7)"/>
<ellipse cx="646.4" cy="333.7" rx="1.9" ry="5.3" fill="none" stroke="#7e7e7e" stroke-width="0.7" transform="rotate(180 646.4 348.7)"/>
<ellipse cx="646.4" cy="333.7" rx="1.9" ry="5.3" fill="none" stroke="#7e7e7e" stroke-width="0.7" transform="rotate(195 646.4 348.7)"/>
<ellipse cx="646.4" cy="333.7" rx="1.9" ry="5.3" fill="none" stroke="#7e7e7e" stroke-width="0.7" transform="rotate(210 646.4 348.7)"/>
<ellipse cx="646.4" cy="333.7" rx="1.9" ry="5.3" fill="none" stroke="#7e7e7e" stroke-width="0.7" transform="rotate(225 646.4 348.7)"/>
<ellipse cx="646.4" cy="333.7" rx="1.9" ry="5.3" fill="none" stroke="#7e7e7e" stroke-width="0.7" transform="rotate(240 646.4 348.7)"/>
<ellipse cx="646.4" cy="333.7" rx="1.9" ry="5.3" fill="none" stroke="#7e7e7e" stroke-width="0.7" transform="rotate(255 646.4 348.7)"/>
<ellipse cx="646.4" cy="333.7" rx="1.9" ry="5.3" fill="none" stroke="#7e7e7e" stroke-width="0.7" transform="rotate(270 646.4 348.7)"/>
<ellipse cx="646.4" cy="333.7" rx="1.9" ry="5.3" fill="none" stroke="#7e7e7e" stroke-width="0.7" transform="rotate(285 646.4 348.7)"/>
<ellipse cx="646.4" cy="333.7" rx="1.9" ry="5.3" fill="none" stroke="#7e7e7e" stroke-width="0.7" transform="rotate(300 646.4 348.7)"/>
<ellipse cx="646.4" cy="333.7" rx="1.9" ry="5.3" fill="none" stroke="#7e7e7e" stroke-width="0.7" transform="rotate(315 646.4 348.7)"/>
<ellipse cx="646.4" cy="333.7" rx="1.9" ry="5.3" fill="none" stroke="#7e7e7e" stroke-width="0.7" transform="rotate(330 646.4 348.7)"/>
<ellipse cx="646.4" cy="333.7" rx="1.9" ry="5.3" fill="none" stroke="#7e7e7e" stroke-width="0.7" transform="rotate(345 646.4 348.7)"/>
<circle cx="646.4" cy="348.7" r="9" fill="#fff" stroke="#7e7e7e" stroke-width="1"/>
<circle cx="646.4" cy="348.7" r="6.4" fill="#fff" stroke="#7e7e7e" stroke-width="1.6"/>
<rect x="643.2" y="373.6" width="6.8" height="9.2" fill="#c2c2c2" stroke="#727272" stroke-width="1"/>
<line x1="646.6" y1="373.6" x2="646.6" y2="382.8" stroke="#727272" stroke-width="0.8"/>
<text x="615.8" y="297.7" >K D27+D31</text>
<text x="593.6" y="378.6" font-weight="700" font-size="13.5" fill="#222">W</text>
<path d="M592.1,380.1 L596.1,375.6" stroke="#666" stroke-width="0.7" fill="none"/>
<text x="609.3" y="388.8" >6</text>
<text x="609" y="403.5" >both sides</text>
<circle cx="836.9" cy="348.5" r="22.9" fill="#fff" stroke="#7e7e7e" stroke-width="1.25"/>
<circle cx="836.9" cy="348.5" r="19.6" fill="#c2c2c2" stroke="#727272" stroke-width="1.25"/>
<circle cx="836.9" cy="348.5" r="12.4" fill="#fff" stroke="#666" stroke-width="1.5"/>
<circle cx="836.9" cy="348.5" r="4.4" fill="#fff" stroke="#666" stroke-width="1.3"/>
<rect x="833.7" y="361.4" width="6.6" height="6.8" fill="#c2c2c2" stroke="#727272" stroke-width="1"/>
<rect x="835.3" y="338.6" width="3.4" height="2" fill="none" stroke="#7e7e7e" stroke-width="0.6"/>
<rect x="835.3" y="357" width="3.4" height="2" fill="none" stroke="#7e7e7e" stroke-width="0.6"/>
<text x="823.7" y="314.9" >K C6</text>
<text x="795.9" y="355.9" font-weight="700" font-size="13.5" fill="#222">W</text>
<path d="M794.4,357.4 L798.4,352.9" stroke="#666" stroke-width="0.7" fill="none"/>
<text x="807.1" y="371.4" >7</text>
<text x="806" y="386.6" >both sides</text>
<text x="677" y="447.5" >K G3</text>
<text x="737.5" y="447.5" >K E1-1</text>
<circle cx="692.9" cy="462" r="6.7" fill="#c2c2c2" stroke="#727272" stroke-width="1.25"/>
<circle cx="758" cy="463.5" r="7.4" fill="#c2c2c2" stroke="#727272" stroke-width="1.25"/>
<text x="680.1" y="476.3" >8</text>
<text x="735.9" y="479.4" >9C</text>
<text x="701.7" y="479.4" font-weight="700" font-size="13.5" fill="#222">W</text>
<path d="M700.2,480.9 L704.2,476.4" stroke="#666" stroke-width="0.7" fill="none"/>
<text x="767.6" y="479.4" font-weight="700" font-size="13.5" fill="#222">W</text>
<path d="M766.1,480.9 L770.1,476.4" stroke="#666" stroke-width="0.7" fill="none"/>
<text x="669.5" y="526.7" >K C24, C27</text>
<path d="M622.4,547.9 Q730,536.2 834.9,535.4 L834.9,554 L684.5,582.9 Q681,583.4 678.5,581.7 Z" fill="#fff" stroke="#7e7e7e" stroke-width="1.25" stroke-linejoin="round" />
<path d="M645.3,567.5 L652.3,561 Q654.5,559 657.5,558.8 L727.8,554.5 L733,554.5 Q738.3,554.5 738.3,562.5 L738.3,582.2" fill="none" stroke="#727272" stroke-width="6.8" stroke-linejoin="round"/>
<path d="M645.7,567.2 L652.3,561 Q654.5,559 657.5,558.8 L727.8,554.5 L733,554.5 Q738.3,554.5 738.3,562.5 L738.3,581.7" fill="none" stroke="#c2c2c2" stroke-width="4.8" stroke-linejoin="round"/>
<text x="733" y="556.6" text-anchor="middle" font-size="8" font-weight="700" fill="#2a2a2a">*</text>
<text x="701.3" y="590.2" >20A</text>
<text x="701.3" y="605" >opposite side 20B</text>
<text x="665.5" y="657.2" >STEP 1</text>
<text x="665.5" y="672" >paint interior color</text>
<g transform="translate(0,0)">
<path d="M698.5,717.4 C713.2,710.5 740.9,696.1 756.4,695 L820.4,695 Q826,711 826,727.8 Q826,744.5 820.4,760.6 L756.4,760.6 C740.9,759.4 713.2,745 698.5,737.6 Z" fill="#fff" stroke="#858585" stroke-width="1.5" stroke-linejoin="round" />
<path d="M702,723.6 Q702,722.8 702.8,722.6 C712,720.4 722,719.3 731,719.3 C745,719.4 753.8,723 753.8,727.5 C753.8,732 745,735.6 731,735.7 C722,735.7 712,734.6 702.8,732.6 Q702,732.4 702,731.6 Z" fill="#c2c2c2" stroke="#727272" stroke-width="1.25" stroke-linejoin="round" />
<path d="M717.6,713 Q738,704.5 755.6,698.6 L754.8,720.8 Q749,717.6 738,715.8 L718.6,714.7 Q717,714.2 717.6,713 Z" fill="#c2c2c2" stroke="#727272" stroke-width="1.25" stroke-linejoin="round" />
<path d="M718.6,740.5 L738,739.4 Q749,737.8 754.8,734.6 L755.6,756.8 Q738,751 717.6,742.2 Q717,741 718.6,740.5 Z" fill="#c2c2c2" stroke="#727272" stroke-width="1.25" stroke-linejoin="round" />
<path d="M759.9,697.7 L808.5,697.7 L808.5,725.4 L757.4,725.4 Q758.2,711 759.9,697.7 Z" fill="#c2c2c2" stroke="#727272" stroke-width="1.25" stroke-linejoin="round" />
<path d="M757.4,730.2 L808.5,730.2 L808.5,757.5 L759.9,757.5 Q758.2,744 757.4,730.2 Z" fill="#c2c2c2" stroke="#727272" stroke-width="1.25" stroke-linejoin="round" />
<text x="752.5" y="708.2" text-anchor="middle" font-size="8.5" font-weight="700" fill="#2a2a2a">*</text>
<text x="804.5" y="706.1" text-anchor="middle" font-size="8.5" font-weight="700" fill="#2a2a2a">*</text>
<text x="752.5" y="756.3" text-anchor="middle" font-size="8.5" font-weight="700" fill="#2a2a2a">*</text>
<text x="804.5" y="757" text-anchor="middle" font-size="8.5" font-weight="700" fill="#2a2a2a">*</text>
<text x="750.2" y="732.3" text-anchor="middle" font-size="8.5" font-weight="700" fill="#2a2a2a">*</text>
</g>
<text x="737" y="698" text-anchor="middle" >3</text>
<text x="782.4" y="692.8" text-anchor="middle" >5</text>
<text x="693.1" y="732" text-anchor="middle" >1</text>
<text x="736.1" y="766" text-anchor="middle" >2</text>
<text x="783" y="772.2" text-anchor="middle" >4</text>
<text x="665.5" y="808.2" >STEP 2</text>
<text x="665.5" y="823" >paint seal color</text>
<g transform="translate(0,148.2)">
<path d="M698.5,717.4 C713.2,710.5 740.9,696.1 756.4,695 L820.4,695 Q826,711 826,727.8 Q826,744.5 820.4,760.6 L756.4,760.6 C740.9,759.4 713.2,745 698.5,737.6 Z" fill="#fff" stroke="#858585" stroke-width="1.5" stroke-linejoin="round" />
<path d="M702,723.6 Q702,722.8 702.8,722.6 C712,720.4 722,719.3 731,719.3 C745,719.4 753.8,723 753.8,727.5 C753.8,732 745,735.6 731,735.7 C722,735.7 712,734.6 702.8,732.6 Q702,732.4 702,731.6 Z" fill="#dcdcdc" stroke="#727272" stroke-width="1.25" stroke-linejoin="round" />
<path d="M717.6,713 Q738,704.5 755.6,698.6 L754.8,720.8 Q749,717.6 738,715.8 L718.6,714.7 Q717,714.2 717.6,713 Z" fill="#7e7e7e" stroke="#7e7e7e" stroke-width="0.6" stroke-linejoin="round" />
<path d="M718.6,740.5 L738,739.4 Q749,737.8 754.8,734.6 L755.6,756.8 Q738,751 717.6,742.2 Q717,741 718.6,740.5 Z" fill="#7e7e7e" stroke="#7e7e7e" stroke-width="0.6" stroke-linejoin="round" />
<path d="M759.9,697.7 L808.5,697.7 L808.5,725.4 L757.4,725.4 Q758.2,711 759.9,697.7 Z" fill="#7e7e7e" stroke="#7e7e7e" stroke-width="0.6" stroke-linejoin="round" />
<path d="M757.4,730.2 L808.5,730.2 L808.5,757.5 L759.9,757.5 Q758.2,744 757.4,730.2 Z" fill="#7e7e7e" stroke="#7e7e7e" stroke-width="0.6" stroke-linejoin="round" />
<path d="M725.5,712.1 Q740,706.6 753.4,702 L752.8,717.4 Q745,714.2 736,713.2 Z" fill="#c2c2c2" stroke="none" stroke-width="1.25" stroke-linejoin="round" />
<path d="M725.5,743.2 L736,742.1 Q745,741.1 752.8,737.9 L753.4,753.3 Q740,748.7 725.5,743.2 Z" fill="#c2c2c2" stroke="none" stroke-width="1.25" stroke-linejoin="round" />
<path d="M761.9,700 L806.2,700 L806.2,723.1 L759.8,723.1 Q760.6,711 761.9,700 Z" fill="#c2c2c2" stroke="none" stroke-width="1.25" stroke-linejoin="round" />
<path d="M759.8,732.5 L806.2,732.5 L806.2,755.2 L761.9,755.2 Q760.6,744 759.8,732.5 Z" fill="#c2c2c2" stroke="none" stroke-width="1.25" stroke-linejoin="round" />
</g>
<text x="734.2" y="846.3" text-anchor="middle" >23</text>
<text x="786.1" y="838.5" text-anchor="middle" >25</text>
<text x="734.1" y="914.3" text-anchor="middle" >22</text>
<text x="786" y="920.2" text-anchor="middle" >24</text>
<text x="606.5" y="868.5" >do not remove</text>
<text x="606.5" y="883.1" >mask 1 from</text>
<text x="606.5" y="897.7" >step 1</text>
<text x="665.5" y="960.4" >STEP 3</text>
<text x="665.5" y="975" >paint camouflage color</text>
<g transform="translate(0,301.3)">
<path d="M698.5,717.4 C713.2,710.5 740.9,696.1 756.4,695 L820.4,695 Q826,711 826,727.8 Q826,744.5 820.4,760.6 L756.4,760.6 C740.9,759.4 713.2,745 698.5,737.6 Z" fill="#fff" stroke="#858585" stroke-width="1.5" stroke-linejoin="round" />
<path d="M702,723.6 Q702,722.8 702.8,722.6 C712,720.4 722,719.3 731,719.3 C745,719.4 753.8,723 753.8,727.5 C753.8,732 745,735.6 731,735.7 C722,735.7 712,734.6 702.8,732.6 Q702,732.4 702,731.6 Z" fill="#dcdcdc" stroke="#727272" stroke-width="1.25" stroke-linejoin="round" />
<path d="M717.6,713 Q738,704.5 755.6,698.6 L754.8,720.8 Q749,717.6 738,715.8 L718.6,714.7 Q717,714.2 717.6,713 Z" fill="#c2c2c2" stroke="#727272" stroke-width="1.25" stroke-linejoin="round" />
<path d="M718.6,740.5 L738,739.4 Q749,737.8 754.8,734.6 L755.6,756.8 Q738,751 717.6,742.2 Q717,741 718.6,740.5 Z" fill="#c2c2c2" stroke="#727272" stroke-width="1.25" stroke-linejoin="round" />
<path d="M759.9,697.7 L808.5,697.7 L808.5,725.4 L757.4,725.4 Q758.2,711 759.9,697.7 Z" fill="#c2c2c2" stroke="#727272" stroke-width="1.25" stroke-linejoin="round" />
<path d="M757.4,730.2 L808.5,730.2 L808.5,757.5 L759.9,757.5 Q758.2,744 757.4,730.2 Z" fill="#c2c2c2" stroke="#727272" stroke-width="1.25" stroke-linejoin="round" />
<text x="752.5" y="708.2" text-anchor="middle" font-size="8.5" font-weight="700" fill="#2a2a2a">*</text>
<text x="804.5" y="706.1" text-anchor="middle" font-size="8.5" font-weight="700" fill="#2a2a2a">*</text>
<text x="752.5" y="756.3" text-anchor="middle" font-size="8.5" font-weight="700" fill="#2a2a2a">*</text>
<text x="804.5" y="757" text-anchor="middle" font-size="8.5" font-weight="700" fill="#2a2a2a">*</text>
</g>
<text x="737" y="999.3" text-anchor="middle" >3</text>
<text x="782.4" y="994.1" text-anchor="middle" >5</text>
<text x="736.1" y="1067.3" text-anchor="middle" >2</text>
<text x="783" y="1073.5" text-anchor="middle" >4</text>
<text x="606.5" y="1015.7" >do not remove</text>
<text x="606.5" y="1030.3" >mask 1 from</text>
<text x="606.5" y="1044.9" >step 1</text>
</g>
<g id="side" fill="none">
<path d="M97.2,1248.9 Q200,1226 313.5,1214.2 L554.3,1157.4" fill="none" stroke="none" stroke-width="1.25" stroke-linejoin="round" />
<path d="M84.3,1250.6 L87.8,1250.2 L87.8,1258.2 L84.3,1257.6 Z" fill="#fff" stroke="#7e7e7e" stroke-width="1.1" stroke-linejoin="round" />
<path d="M97.2,1248.9 Q205,1224 313.5,1214.2" fill="none" stroke="#7e7e7e" stroke-width="1.1" stroke-linejoin="round" />
<path d="M97.2,1260.4 Q200,1288 454.8,1298.8 L571,1299.2 L740.7,1294.1" fill="none" stroke="#7e7e7e" stroke-width="1.1" stroke-linejoin="round" />
<path d="M313.5,1214.2 L384.6,1177.3 Q440,1166.4 497.8,1163.5 L520.7,1163 L554.3,1157.4" fill="none" stroke="#7e7e7e" stroke-width="1.1" stroke-linejoin="round" />
<path d="M313.5,1214.2 L483.5,1209" fill="none" stroke="#7e7e7e" stroke-width="1.1" stroke-linejoin="round" />
<path d="M497.8,1163.5 L483.5,1210.3 L454.8,1298.8" fill="none" stroke="#7e7e7e" stroke-width="1.1" stroke-linejoin="round" />
<polygon points="333.5,1210.3 384.6,1181.6 396,1207.4" fill="none" stroke="#7e7e7e" stroke-width="1.1" stroke-linejoin="round" />
<polygon points="340.1,1208 383.1,1185 391.7,1206" fill="none" stroke="#7e7e7e" stroke-width="1.1" stroke-linejoin="round" />
<path d="M384.6,1177.3 L396,1207.6" fill="none" stroke="#7e7e7e" stroke-width="1.1" stroke-linejoin="round" />
<path d="M390.3,1176.7 Q428,1169 465.7,1165.8 L462,1191.6 L429,1202.2 L400.3,1201.1 Z" fill="none" stroke="#7e7e7e" stroke-width="1.1" stroke-linejoin="round" />
<path d="M554.3,1157.4 L634.6,1118.7 Q655,1111 677.6,1110.9 L771.6,1111.5 Q772.8,1124 763.6,1147.3 L749.3,1200.4 C745,1217 723.5,1240 723.5,1262 C723.5,1275 733,1286 740.7,1294.1" fill="none" stroke="#7e7e7e" stroke-width="1.1" stroke-linejoin="round" />
<path d="M540,1159.7 L554.3,1157.4 L639.5,1153.3 L763.6,1146.5" fill="none" stroke="#7e7e7e" stroke-width="1.1" stroke-linejoin="round" />
<path d="M486,1160.8 L540,1159.7" fill="none" stroke="none" stroke-width="1.25" stroke-linejoin="round" />
<path d="M570.7,1157.4 L570.7,1298.7" fill="none" stroke="#7e7e7e" stroke-width="1.1" stroke-linejoin="round" />
<path d="M579.3,1148.8 L630.3,1125.8 L640.3,1152.5 L579.3,1155.4 Z" fill="none" stroke="#7e7e7e" stroke-width="1.1" stroke-linejoin="round" />
<path d="M634.6,1118.7 L644.6,1145.9" fill="none" stroke="#7e7e7e" stroke-width="1.1" stroke-linejoin="round" />
<path d="M710,1111.3 L710,1139.3 L648.9,1146.5" fill="none" stroke="#7e7e7e" stroke-width="1.1" stroke-linejoin="round" />
<path d="M743.5,1111.5 L736.4,1147.6" fill="none" stroke="#7e7e7e" stroke-width="1.1" stroke-linejoin="round" />
<path d="M679.6,1157.4 L763.6,1146.5 M679.6,1157.4 L748.4,1200.4" fill="none" stroke="#7e7e7e" stroke-width="1.1" stroke-linejoin="round" />
<path d="M520.7,1163 L540,1159.7 M505,1165 L486.5,1213" fill="none" stroke="none" stroke-width="1.25" stroke-linejoin="round" />
<path d="M87.8,1250.4 L97.2,1249.4 L487.3,1209.9 L570.7,1182.3 L639.5,1158.8 L639.5,1145.3 L648.9,1145.3 L648.9,1166.8 L570.7,1193.8 L570.7,1209 L539.4,1209 L539.4,1203.1 L484.4,1220.6 L330,1236.5 L220.2,1247.8 A10.6,10.6 0 0 0 203.7,1249.5 L97.2,1260.4 L87.8,1258.2 Z" fill="#c2c2c2" stroke="#727272" stroke-width="1.25" stroke-linejoin="round" />
<path d="M97.2,1249.4 L97.2,1260.4" fill="none" stroke="#727272" stroke-width="1" stroke-linejoin="round" />
<rect x="271.5" y="1235.1" width="21.2" height="37.6" rx="3.2" fill="#c2c2c2" stroke="#727272" stroke-width="1.25"/>
<path d="M639.5,1153.3 L648.9,1153.3" fill="none" stroke="#727272" stroke-width="0.8" stroke-linejoin="round" />
<path d="M539.4,1209 L525,1209" fill="none" stroke="#7e7e7e" stroke-width="1.1" stroke-linejoin="round" />
<circle cx="211.9" cy="1254.6" r="3.6" fill="#fff" stroke="#7e7e7e" stroke-width="1.1"/>
<text x="283.6" y="1267.8" text-anchor="middle" font-size="9" font-weight="700" fill="#2a2a2a">*</text>
<text x="558.1" y="1208.2" text-anchor="middle" font-size="9" font-weight="700" fill="#2a2a2a">*</text>
</g>
<text x="338.7" y="1253.3" >10A</text>
<text x="338.7" y="1269" >(opposite side 10B)</text>
</svg>
</body>
</html>
